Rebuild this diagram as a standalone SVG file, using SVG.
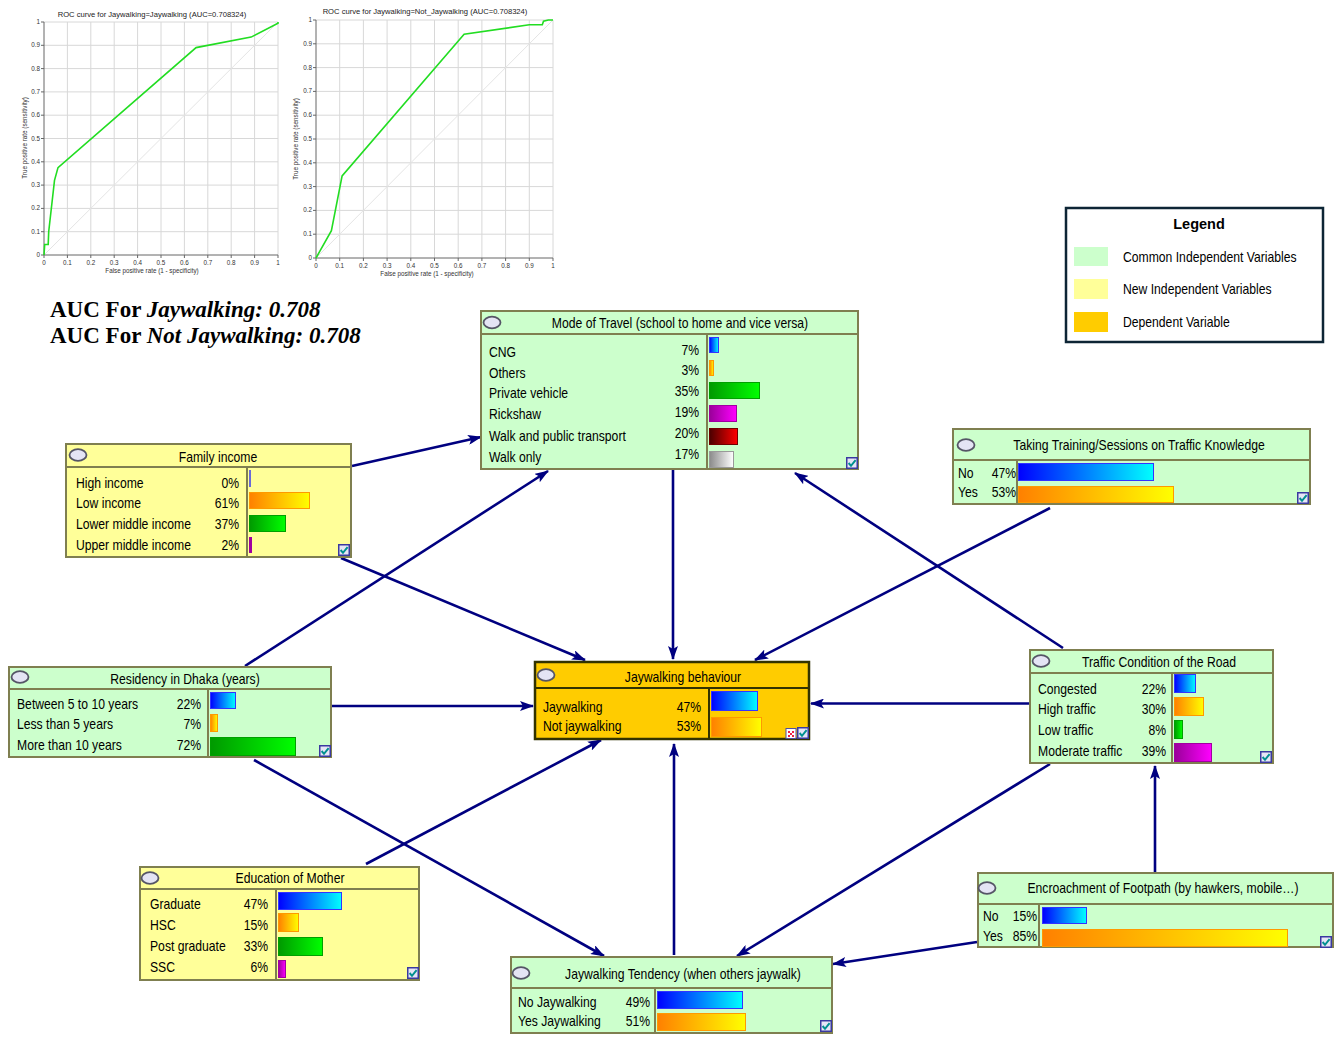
<svg xmlns="http://www.w3.org/2000/svg" width="1339" height="1048" viewBox="0 0 1339 1048">
<defs>
<style>
.lb{font-family:"Liberation Sans",Arial,sans-serif;font-size:14.5px;fill:#000}
.tt{text-anchor:middle}
.pc{text-anchor:end}
.grn{fill:#ccffcc;stroke:#7f7f50;stroke-width:2}
.yel{fill:#ffff99;stroke:#7f7f50;stroke-width:2}
.dep{fill:#ffcc00;stroke:#333300;stroke-width:2.5}
.sep{stroke:#7f7f50;stroke-width:2;fill:none}
.sepd{stroke:#333300;stroke-width:2;fill:none}
.conn path{stroke:#000080;stroke-width:2.6;fill:none;marker-end:url(#arr)}
.grid{stroke:#d8d8d8;stroke-width:1;fill:none}
.ax{stroke:#666;stroke-width:1;fill:none}
.tk{font-family:"Liberation Sans",Arial,sans-serif;font-size:6.3px;fill:#333}
.rt{font-family:"Liberation Sans",Arial,sans-serif;font-size:7.6px;fill:#222}
.auc{font-family:"Liberation Serif","Times New Roman",serif;font-size:23px;font-weight:bold;fill:#000}
.bB{fill:url(#gB);stroke:#3333ff;stroke-width:1}
.bO{fill:url(#gO);stroke:#ff9900;stroke-width:1}
.bG{fill:url(#gG);stroke:#00a000;stroke-width:1}
.bM{fill:url(#gM);stroke:#a000a0;stroke-width:1}
.bR{fill:url(#gR);stroke:#700000;stroke-width:1}
.bS{fill:url(#gS);stroke:#999;stroke-width:1}
</style>
<linearGradient id="gB" x1="0" y1="0" x2="1" y2="0"><stop offset="0" stop-color="#0000ff"/><stop offset="1" stop-color="#00ffff"/></linearGradient>
<linearGradient id="gO" x1="0" y1="0" x2="1" y2="0"><stop offset="0" stop-color="#ff8000"/><stop offset="1" stop-color="#ffff00"/></linearGradient>
<linearGradient id="gG" x1="0" y1="0" x2="1" y2="0"><stop offset="0" stop-color="#009900"/><stop offset="1" stop-color="#00ff00"/></linearGradient>
<linearGradient id="gM" x1="0" y1="0" x2="1" y2="0"><stop offset="0" stop-color="#990099"/><stop offset="1" stop-color="#ff00ff"/></linearGradient>
<linearGradient id="gR" x1="0" y1="0" x2="1" y2="0"><stop offset="0" stop-color="#4a0000"/><stop offset="1" stop-color="#ff0000"/></linearGradient>
<linearGradient id="gS" x1="0" y1="0" x2="1" y2="0"><stop offset="0" stop-color="#8a8a8a"/><stop offset="1" stop-color="#ffffff"/></linearGradient>
<marker id="arr" viewBox="0 0 14 10" markerWidth="14" markerHeight="10" refX="13" refY="5" markerUnits="userSpaceOnUse" orient="auto">
<path d="M0,0 L14,5 L0,10 L3,5 Z" fill="#000080"/>
</marker>
<symbol id="ov" viewBox="0 0 20 14" overflow="visible">
<ellipse cx="10" cy="7" rx="8.5" ry="5.8" fill="#e4e4f4" stroke="#555566" stroke-width="1.8"/>
</symbol>
<symbol id="chk" viewBox="0 0 12 12" overflow="visible">
<rect x="0.75" y="0.75" width="10.5" height="10.5" fill="#e6e6f6" stroke="#3a3aa0" stroke-width="1.5"/>
<path d="M2.6,6 L5,8.8 L9.6,3.2" stroke="#009090" stroke-width="2" fill="none"/>
</symbol>
</defs>
<rect x="0" y="0" width="1339" height="1048" fill="#ffffff"/>

<!-- ROC chart 1 -->
<g id="roc1">
<path class="grid" d="M67.4,22V255M90.8,22V255M114.2,22V255M137.6,22V255M161,22V255M184.4,22V255M207.8,22V255M231.2,22V255M254.6,22V255M278,22V255M44,231.7H278M44,208.4H278M44,185.1H278M44,161.8H278M44,138.5H278M44,115.2H278M44,91.9H278M44,68.6H278M44,45.3H278M44,22H278"/>
<path d="M44,255 L278,22" stroke="#e4e4e4" stroke-width="1" fill="none"/>
<path class="ax" d="M44,22V255H278"/>
<path class="ax" d="M41,255H44M41,231.7H44M41,208.4H44M41,185.1H44M41,161.8H44M41,138.5H44M41,115.2H44M41,91.9H44M41,68.6H44M41,45.3H44M41,22H44M44,255V258M67.4,255V258M90.8,255V258M114.2,255V258M137.6,255V258M161,255V258M184.4,255V258M207.8,255V258M231.2,255V258M254.6,255V258M278,255V258"/>
<path d="M44,255 L44.7,244.5 L48.2,244.5 L48.7,231.7 L54.5,180.4 L58,167.6 L196.1,47.6 L251.1,37.1 L278,23.2 L278,22" stroke="#22dd22" stroke-width="1.6" fill="none"/>
<text class="rt" x="152" y="16.5" text-anchor="middle">ROC curve for Jaywalking=Jaywalking (AUC=0.708324)</text>
<g class="tk" text-anchor="end">
<text x="40" y="257">0</text><text x="40" y="233.7">0.1</text><text x="40" y="210.4">0.2</text><text x="40" y="187.1">0.3</text><text x="40" y="163.8">0.4</text><text x="40" y="140.5">0.5</text><text x="40" y="117.2">0.6</text><text x="40" y="93.9">0.7</text><text x="40" y="70.6">0.8</text><text x="40" y="47.3">0.9</text><text x="40" y="24">1</text>
</g>
<g class="tk" text-anchor="middle">
<text x="44" y="265">0</text><text x="67.4" y="265">0.1</text><text x="90.8" y="265">0.2</text><text x="114.2" y="265">0.3</text><text x="137.6" y="265">0.4</text><text x="161" y="265">0.5</text><text x="184.4" y="265">0.6</text><text x="207.8" y="265">0.7</text><text x="231.2" y="265">0.8</text><text x="254.6" y="265">0.9</text><text x="278" y="265">1</text>
</g>
<text class="tk" x="152" y="273" text-anchor="middle">False positive rate (1 - specificity)</text>
<text class="tk" transform="translate(27,138) rotate(-90)" text-anchor="middle">True positive rate (sensitivity)</text>
</g>

<!-- ROC chart 2 -->
<g id="roc2">
<path class="grid" d="M339.7,20V258M363.4,20V258M387.1,20V258M410.8,20V258M434.5,20V258M458.2,20V258M481.9,20V258M505.6,20V258M529.3,20V258M553,20V258M316,234.2H553M316,210.4H553M316,186.6H553M316,162.8H553M316,139H553M316,115.2H553M316,91.4H553M316,67.6H553M316,43.8H553M316,20H553"/>
<path d="M316,258 L553,20" stroke="#e4e4e4" stroke-width="1" fill="none"/>
<path class="ax" d="M316,20V258H553"/>
<path class="ax" d="M313,258H316M313,234.2H316M313,210.4H316M313,186.6H316M313,162.8H316M313,139H316M313,115.2H316M313,91.4H316M313,67.6H316M313,43.8H316M313,20H316M316,258V261M339.7,258V261M363.4,258V261M387.1,258V261M410.8,258V261M434.5,258V261M458.2,258V261M481.9,258V261M505.6,258V261M529.3,258V261M553,258V261"/>
<path d="M316,258 L331.4,230.6 L342.1,175.9 L464.1,34.3 L529.3,24.8 L542.3,24.8 L543.5,21.2 L548.3,20 L553,20" stroke="#22dd22" stroke-width="1.6" fill="none"/>
<text class="rt" x="425" y="14" text-anchor="middle">ROC curve for Jaywalking=Not_Jaywalking (AUC=0.708324)</text>
<g class="tk" text-anchor="end">
<text x="312" y="260">0</text><text x="312" y="236.2">0.1</text><text x="312" y="212.4">0.2</text><text x="312" y="188.6">0.3</text><text x="312" y="164.8">0.4</text><text x="312" y="141">0.5</text><text x="312" y="117.2">0.6</text><text x="312" y="93.4">0.7</text><text x="312" y="69.6">0.8</text><text x="312" y="45.8">0.9</text><text x="312" y="22">1</text>
</g>
<g class="tk" text-anchor="middle">
<text x="316" y="268">0</text><text x="339.7" y="268">0.1</text><text x="363.4" y="268">0.2</text><text x="387.1" y="268">0.3</text><text x="410.8" y="268">0.4</text><text x="434.5" y="268">0.5</text><text x="458.2" y="268">0.6</text><text x="481.9" y="268">0.7</text><text x="505.6" y="268">0.8</text><text x="529.3" y="268">0.9</text><text x="553" y="268">1</text>
</g>
<text class="tk" x="427" y="276" text-anchor="middle">False positive rate (1 - specificity)</text>
<text class="tk" transform="translate(298,139) rotate(-90)" text-anchor="middle">True positive rate (sensitivity)</text>
</g>

<!-- AUC text -->
<g id="auc">
<text class="auc" x="50" y="317">AUC For <tspan font-style="italic">Jaywalking: 0.708</tspan></text>
<text class="auc" x="50" y="343">AUC For <tspan font-style="italic">Not Jaywalking: 0.708</tspan></text>
</g>

<!-- Legend -->
<g id="legend">
<rect x="1066" y="208" width="257" height="134" fill="#ffffff" stroke="#0d2535" stroke-width="2.5"/>
<text class="lb tt" x="1199" y="229" font-weight="bold" font-size="14">Legend</text>
<rect x="1074" y="247" width="34" height="19" fill="#ccffcc"/>
<rect x="1074" y="279" width="34" height="20" fill="#ffff99"/>
<rect x="1074" y="312" width="34" height="20" fill="#ffcc00"/>
<text class="lb" transform="translate(1123,262) scale(.84,1)">Common Independent Variables</text>
<text class="lb" transform="translate(1123,294) scale(.84,1)">New Independent Variables</text>
<text class="lb" transform="translate(1123,327) scale(.84,1)">Dependent Variable</text>
</g>

<!-- Connectors -->
<g id="connectors" class="conn">
<path d="M352,466 L481,437"/>
<path d="M245,666 L548,471"/>
<path d="M341,558 L585,660"/>
<path d="M673,469 L673,659"/>
<path d="M1050,508 L755,660"/>
<path d="M1063,648 L795,473"/>
<path d="M1030,703.5 L811,703.5"/>
<path d="M331,706 L533,706"/>
<path d="M366,864 L601,740"/>
<path d="M674,955 L674,744"/>
<path d="M254,760 L604,956"/>
<path d="M1050,764 L737,956"/>
<path d="M977,942 L833,964"/>
<path d="M1155,873 L1155,766"/>
</g>

<!-- Mode of Travel -->
<g id="mode-of-travel">
<rect class="grn" x="481" y="311" width="377" height="158"/>
<path class="sep" d="M481,334H858M707,334V469"/>
<use href="#ov" x="482" y="315.5" width="20" height="14"/>
<text class="lb tt" transform="translate(680,328) scale(.84,1)">Mode of Travel (school to home and vice versa)</text>
<text class="lb" transform="translate(489,357) scale(.84,1)">CNG</text>
<text class="lb" transform="translate(489,378) scale(.84,1)">Others</text>
<text class="lb" transform="translate(489,398) scale(.84,1)">Private vehicle</text>
<text class="lb" transform="translate(489,419) scale(.84,1)">Rickshaw</text>
<text class="lb" transform="translate(489,441) scale(.84,1)">Walk and public transport</text>
<text class="lb" transform="translate(489,462) scale(.84,1)">Walk only</text>
<text class="lb pc" transform="translate(699,355) scale(.84,1)">7%</text>
<text class="lb pc" transform="translate(699,375) scale(.84,1)">3%</text>
<text class="lb pc" transform="translate(699,396) scale(.84,1)">35%</text>
<text class="lb pc" transform="translate(699,417) scale(.84,1)">19%</text>
<text class="lb pc" transform="translate(699,438) scale(.84,1)">20%</text>
<text class="lb pc" transform="translate(699,459) scale(.84,1)">17%</text>
<rect class="bB" x="709.5" y="337.5" width="9" height="15"/>
<rect class="bO" x="709.5" y="360.5" width="4" height="15"/>
<rect class="bG" x="709.5" y="382.5" width="50" height="16"/>
<rect class="bM" x="709.5" y="405.5" width="27" height="16"/>
<rect class="bR" x="709.5" y="428.5" width="28" height="16"/>
<rect class="bS" x="709.5" y="451.5" width="24" height="16"/>
<use href="#chk" x="846" y="457" width="12" height="12"/>
</g>

<!-- Family income -->
<g id="family-income">
<rect class="yel" x="66" y="444" width="285" height="113"/>
<path class="sep" d="M66,467H351M247,467V557"/>
<use href="#ov" x="68" y="448" width="20" height="14"/>
<text class="lb tt" transform="translate(218,462) scale(.84,1)">Family income</text>
<text class="lb" transform="translate(76,488) scale(.84,1)">High income</text>
<text class="lb" transform="translate(76,508) scale(.84,1)">Low income</text>
<text class="lb" transform="translate(76,529) scale(.84,1)">Lower middle income</text>
<text class="lb" transform="translate(76,550) scale(.84,1)">Upper middle income</text>
<text class="lb pc" transform="translate(239,488) scale(.84,1)">0%</text>
<text class="lb pc" transform="translate(239,508) scale(.84,1)">61%</text>
<text class="lb pc" transform="translate(239,529) scale(.84,1)">37%</text>
<text class="lb pc" transform="translate(239,550) scale(.84,1)">2%</text>
<rect x="249" y="470" width="2" height="17" fill="#6a6ad8"/>
<rect class="bO" x="249.5" y="492.5" width="60" height="16"/>
<rect class="bG" x="249.5" y="515.5" width="36" height="16"/>
<rect x="249" y="537" width="3" height="16" fill="#a000a0"/>
<use href="#chk" x="338" y="544" width="12" height="12"/>
</g>

<!-- Taking Training -->
<g id="taking-training">
<rect class="grn" x="953" y="429" width="357" height="75"/>
<path class="sep" d="M953,460H1310M1017,460V504"/>
<use href="#ov" x="956" y="438" width="20" height="14"/>
<text class="lb tt" transform="translate(1139,450) scale(.84,1)">Taking Training/Sessions on Traffic Knowledge</text>
<text class="lb" transform="translate(958,478) scale(.84,1)">No</text>
<text class="lb" transform="translate(958,497) scale(.84,1)">Yes</text>
<text class="lb pc" transform="translate(1016,478) scale(.84,1)">47%</text>
<text class="lb pc" transform="translate(1016,497) scale(.84,1)">53%</text>
<rect class="bB" x="1018.5" y="463.5" width="135" height="17"/>
<rect class="bO" x="1018.5" y="486.5" width="155" height="16"/>
<use href="#chk" x="1297" y="492" width="12" height="12"/>
</g>

<!-- Residency in Dhaka -->
<g id="residency">
<rect class="grn" x="9" y="667" width="322" height="90"/>
<path class="sep" d="M9,689H331M208,689V757"/>
<use href="#ov" x="10" y="670" width="20" height="14"/>
<text class="lb tt" transform="translate(185,684) scale(.84,1)">Residency in Dhaka (years)</text>
<text class="lb" transform="translate(17,709) scale(.84,1)">Between 5 to 10 years</text>
<text class="lb" transform="translate(17,729) scale(.84,1)">Less than 5 years</text>
<text class="lb" transform="translate(17,750) scale(.84,1)">More than 10 years</text>
<text class="lb pc" transform="translate(201,709) scale(.84,1)">22%</text>
<text class="lb pc" transform="translate(201,729) scale(.84,1)">7%</text>
<text class="lb pc" transform="translate(201,750) scale(.84,1)">72%</text>
<rect class="bB" x="210.5" y="692.5" width="25" height="16"/>
<rect class="bO" x="210.5" y="714.5" width="7" height="17"/>
<rect class="bG" x="210.5" y="737.5" width="85" height="18"/>
<use href="#chk" x="319" y="745" width="12" height="12"/>
</g>

<!-- Jaywalking behaviour -->
<g id="jaywalking-behaviour">
<rect class="dep" x="535" y="662" width="274" height="77"/>
<path class="sepd" d="M535,688H809M709,688V739"/>
<use href="#ov" x="536" y="668" width="20" height="14"/>
<text class="lb tt" transform="translate(683,682) scale(.84,1)">Jaywalking behaviour</text>
<text class="lb" transform="translate(543,712) scale(.84,1)">Jaywalking</text>
<text class="lb" transform="translate(543,731) scale(.84,1)">Not jaywalking</text>
<text class="lb pc" transform="translate(701,712) scale(.84,1)">47%</text>
<text class="lb pc" transform="translate(701,731) scale(.84,1)">53%</text>
<rect class="bB" x="711.5" y="691.5" width="46" height="19"/>
<rect class="bO" x="711.5" y="717.5" width="50" height="19"/>
<rect x="786" y="728.5" width="10" height="10" fill="#ffffff" stroke="#5050a0" stroke-width="1"/>
<path d="M788,731h2v2h-2zM792,731h2v2h-2zM790,733h2v2h-2zM788,735h2v2h-2zM792,735h2v2h-2z" fill="#ee2244"/>
<use href="#chk" x="797" y="727" width="12" height="12"/>
</g>

<!-- Traffic Condition -->
<g id="traffic-condition">
<rect class="grn" x="1030" y="650" width="243" height="113"/>
<path class="sep" d="M1030,673H1273M1172,673V763"/>
<use href="#ov" x="1031" y="654" width="20" height="14"/>
<text class="lb tt" transform="translate(1159,667) scale(.84,1)">Traffic Condition of the Road</text>
<text class="lb" transform="translate(1038,694) scale(.84,1)">Congested</text>
<text class="lb" transform="translate(1038,714) scale(.84,1)">High traffic</text>
<text class="lb" transform="translate(1038,735) scale(.84,1)">Low traffic</text>
<text class="lb" transform="translate(1038,756) scale(.84,1)">Moderate traffic</text>
<text class="lb pc" transform="translate(1166,694) scale(.84,1)">22%</text>
<text class="lb pc" transform="translate(1166,714) scale(.84,1)">30%</text>
<text class="lb pc" transform="translate(1166,735) scale(.84,1)">8%</text>
<text class="lb pc" transform="translate(1166,756) scale(.84,1)">39%</text>
<rect class="bB" x="1174.5" y="674.5" width="21" height="18"/>
<rect class="bO" x="1174.5" y="697.5" width="29" height="18"/>
<rect class="bG" x="1174.5" y="720.5" width="8" height="18"/>
<rect class="bM" x="1174.5" y="743.5" width="37" height="18"/>
<use href="#chk" x="1260" y="751" width="12" height="12"/>
</g>

<!-- Education of Mother -->
<g id="education-of-mother">
<rect class="yel" x="140" y="867" width="279" height="113"/>
<path class="sep" d="M140,889H419M276,889V980"/>
<use href="#ov" x="140" y="871" width="20" height="14"/>
<text class="lb tt" transform="translate(290,883) scale(.84,1)">Education of Mother</text>
<text class="lb" transform="translate(150,909) scale(.84,1)">Graduate</text>
<text class="lb" transform="translate(150,930) scale(.84,1)">HSC</text>
<text class="lb" transform="translate(150,951) scale(.84,1)">Post graduate</text>
<text class="lb" transform="translate(150,972) scale(.84,1)">SSC</text>
<text class="lb pc" transform="translate(268,909) scale(.84,1)">47%</text>
<text class="lb pc" transform="translate(268,930) scale(.84,1)">15%</text>
<text class="lb pc" transform="translate(268,951) scale(.84,1)">33%</text>
<text class="lb pc" transform="translate(268,972) scale(.84,1)">6%</text>
<rect class="bB" x="278.5" y="892.5" width="63" height="17"/>
<rect class="bO" x="278.5" y="913.5" width="20" height="18"/>
<rect class="bG" x="278.5" y="937.5" width="44" height="18"/>
<rect class="bM" x="278.5" y="960.5" width="7" height="17"/>
<use href="#chk" x="407" y="967" width="12" height="12"/>
</g>

<!-- Jaywalking Tendency -->
<g id="jaywalking-tendency">
<rect class="grn" x="511" y="957" width="321" height="76"/>
<path class="sep" d="M511,988H832M655,988V1033"/>
<use href="#ov" x="511" y="966" width="20" height="14"/>
<text class="lb tt" transform="translate(683,979) scale(.84,1)">Jaywalking Tendency (when others jaywalk)</text>
<text class="lb" transform="translate(518,1007) scale(.84,1)">No Jaywalking</text>
<text class="lb" transform="translate(518,1026) scale(.84,1)">Yes Jaywalking</text>
<text class="lb pc" transform="translate(650,1007) scale(.84,1)">49%</text>
<text class="lb pc" transform="translate(650,1026) scale(.84,1)">51%</text>
<rect class="bB" x="657.5" y="991.5" width="85" height="17"/>
<rect class="bO" x="657.5" y="1013.5" width="88" height="17"/>
<use href="#chk" x="820" y="1020" width="12" height="12"/>
</g>

<!-- Encroachment of Footpath -->
<g id="encroachment">
<rect class="grn" x="978" y="873" width="355" height="74"/>
<path class="sep" d="M978,904H1333M1039,904V947"/>
<use href="#ov" x="977" y="881" width="20" height="14"/>
<text class="lb tt" transform="translate(1163,893) scale(.84,1)">Encroachment of Footpath (by hawkers, mobile…)</text>
<text class="lb" transform="translate(983,921) scale(.84,1)">No</text>
<text class="lb" transform="translate(983,941) scale(.84,1)">Yes</text>
<text class="lb pc" transform="translate(1037,921) scale(.84,1)">15%</text>
<text class="lb pc" transform="translate(1037,941) scale(.84,1)">85%</text>
<rect class="bB" x="1042.5" y="907.5" width="44" height="16"/>
<rect class="bO" x="1042.5" y="929.5" width="245" height="17"/>
<use href="#chk" x="1320" y="936" width="12" height="12"/>
</g>
</svg>
